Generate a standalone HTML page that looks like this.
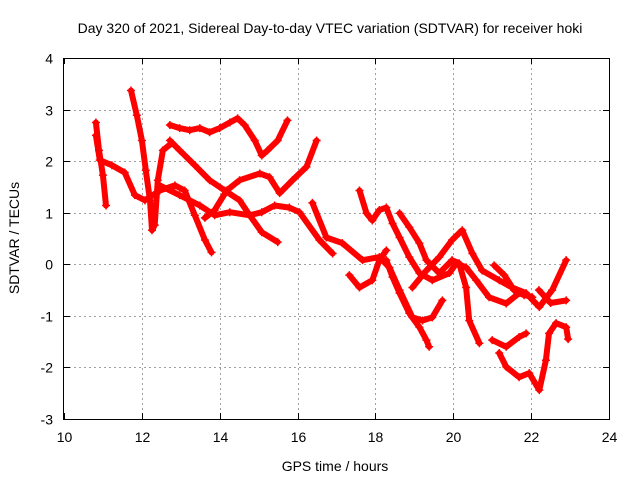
<!DOCTYPE html>
<html><head><meta charset="utf-8"><style>
body{margin:0;background:#fff;}
svg{display:block;font-family:"Liberation Sans",sans-serif;}
</style></head><body>
<svg id="chart" width="640" height="480" viewBox="0 0 640 480">
<rect width="640" height="480" fill="#fff"/>
<g id="grid"></g>
<g id="series"></g>
<rect x="63.5" y="58.5" width="546" height="361" fill="none" stroke="#000" stroke-width="1"/>
<g id="ticks" font-size="14" fill="#000"></g>
<text x="330" y="33" font-size="14" text-anchor="middle">Day 320 of 2021, Sidereal Day-to-day VTEC variation (SDTVAR) for receiver hoki</text>
<text x="335" y="471" font-size="14" text-anchor="middle">GPS time / hours</text>
<text transform="translate(19,238) rotate(-90)" font-size="14" text-anchor="middle">SDTVAR / TECUs</text>
</svg>
<script>
const xTicks=[10,12,14,16,18,20,22,24];
const yTicks=[4,3,2,1,0,-1,-2,-3];
const t1h=[10.82,10.9,11.0,11.08];
const t1v=[2.75,2.21,1.73,1.14];
const t2h=[10.82,10.92,11.23,11.56,11.82,12.08,12.46,12.85,13.10,13.36,13.62,13.79];
const t2v=[2.5,2.02,1.92,1.78,1.34,1.24,1.43,1.53,1.43,0.95,0.47,0.23];
const t3h=[11.72,11.87,12.0,12.1,12.21,12.26,12.33,12.41,12.54,12.77];
const t3v=[3.37,2.89,2.40,1.82,1.24,0.66,0.76,1.63,2.21,2.35];
const t4h=[12.72,12.97,13.23,13.49,13.74,14.0,14.26,14.46,14.64,14.9,15.08,15.23,15.49,15.74];
const t4v=[2.7,2.64,2.6,2.64,2.56,2.64,2.75,2.83,2.7,2.4,2.11,2.21,2.40,2.79];
const t5h=[12.72,12.97,13.36,13.74,14.13,14.51,14.77,15.08,15.49];
const t5v=[2.4,2.21,1.92,1.63,1.43,1.24,0.95,0.62,0.43];
const t6h=[12.46,12.97,13.49,13.87,14.26,14.77,15.08,15.41,15.79,16.05,16.56,16.90];
const t6v=[1.53,1.34,1.14,0.95,1.01,0.95,1.01,1.14,1.10,1.01,0.47,0.21];
const t7h=[13.62,13.87,14.18,14.51,15.03,15.28,15.54,15.87,16.23,16.49];
const t7v=[0.90,1.05,1.43,1.63,1.76,1.69,1.38,1.63,1.89,2.40];
const t8h=[16.38,16.74,17.15,17.67,18.10,18.36,18.62,18.95,19.21,19.46,19.72];
const t8v=[1.19,0.52,0.41,0.08,0.14,-0.06,-0.50,-1.03,-1.09,-1.03,-0.70];
const t9h=[17.33,17.59,17.92,18.10,18.28];
const t9v=[-0.21,-0.45,-0.31,0.08,0.27];
const t10h=[17.59,17.77,17.92,18.10,18.28,18.44,18.62,18.87,19.13,19.46,19.90,20.08,20.33,20.59,20.92,21.36,21.69,22.03];
const t10v=[1.43,0.99,0.85,1.05,1.10,0.79,0.52,0.14,-0.17,-0.31,-0.17,0.02,-0.06,-0.31,-0.64,-0.76,-0.56,-0.64];
const t11h=[18.28,18.44,18.62,18.87,19.13,19.31,19.38];
const t11v=[0.08,-0.25,-0.56,-0.95,-1.22,-1.47,-1.60];
const t12h=[18.62,18.87,19.13,19.31,19.64,19.97,20.15,20.33,20.41,20.67];
const t12v=[0.99,0.72,0.41,0.08,-0.17,0.08,0.02,-0.45,-1.09,-1.53];
const t13h=[18.95,19.31,19.64,19.97,20.23,20.49,20.74,21.18,21.51,21.87,22.21,22.54,22.90];
const t13v=[-0.45,-0.12,0.14,0.47,0.66,0.21,-0.12,-0.31,-0.45,-0.56,-0.83,-0.50,0.08];
const t14h=[21.0,21.36,21.69,21.87];
const t14v=[-1.47,-1.60,-1.41,-1.34];
const t15h=[21.05,21.31,21.56,21.82];
const t15v=[-0.02,-0.21,-0.50,-0.60];
const t16h=[21.18,21.36,21.69,21.95,22.21,22.38,22.46,22.64,22.90,22.95];
const t16v=[-1.72,-1.99,-2.19,-2.11,-2.44,-1.86,-1.34,-1.14,-1.22,-1.45];
const t17h=[22.2,22.5,22.9];
const t17v=[-0.5,-0.75,-0.7];
const tracks=[[t1h,t1v],[t2h,t2v],[t3h,t3v],[t4h,t4v],[t5h,t5v],[t6h,t6v],[t7h,t7v],[t8h,t8v],[t9h,t9v],[t10h,t10v],[t11h,t11v],[t12h,t12v],[t13h,t13v],[t14h,t14v],[t15h,t15v],[t16h,t16v],[t17h,t17v]];

const X0=64,X1=609,Y0=419,Y1=58;
function xs(h){return X0+(h-10)/14*(X1-X0);}
function ys(v){return Y0-(v+3)/7*(Y0-Y1);}
const NS="http://www.w3.org/2000/svg";
const grid=document.getElementById('grid'),ticks=document.getElementById('ticks'),ser=document.getElementById('series');
function mk(tag,attrs,parent){const e=document.createElementNS(NS,tag);for(const k in attrs)e.setAttribute(k,attrs[k]);parent.appendChild(e);return e;}
xTicks.forEach(t=>{
  const x=Math.round(xs(t))+0.5;
  if(t>10&&t<24){const g=mk('line',{x1:x,x2:x,y1:Y1,y2:Y0,stroke:'#a0a0a0','stroke-dasharray':'2,3'},grid);
  
  }
  mk('line',{x1:x,x2:x,y1:Y0,y2:Y0-6,stroke:'#000'},ticks);
  mk('line',{x1:x,x2:x,y1:Y1,y2:Y1+6,stroke:'#000'},ticks);
  const tx=mk('text',{x:x,y:442,'text-anchor':'middle'},ticks);tx.textContent=t;
  
  
});
yTicks.forEach(t=>{
  const y=Math.round(ys(t))+0.5;
  if(t>-3&&t<4){const g=mk('line',{x1:X0,x2:X1,y1:y,y2:y,stroke:'#a0a0a0','stroke-dasharray':'2,3'},grid);
  
  }
  mk('line',{x1:X0,x2:X0+6,y1:y,y2:y,stroke:'#000'},ticks);
  mk('line',{x1:X1,x2:X1-6,y1:y,y2:y,stroke:'#000'},ticks);
  const tx=mk('text',{x:53,y:y+5,'text-anchor':'end'},ticks);tx.textContent=t;
  
  
});
tracks.forEach((tr,i)=>{
  const [hs,vs]=tr;
  const pts=hs.map((h,j)=>xs(h).toFixed(1)+','+ys(vs[j]).toFixed(1)).join(' ');
  const pl=mk('polyline',{points:pts,fill:'none',stroke:'#ff0000','stroke-width':6,'stroke-linejoin':'round','stroke-linecap':'round'},ser);
  
  
  hs.forEach((h,j)=>{
    const x=xs(h),y=ys(vs[j]);
    const p=mk('path',{d:`M${x-4},${y}H${x+4}M${x},${y-4}V${y+4}`,stroke:'#ff0000','stroke-width':1.5},ser);
    
    
  });
});
</script>
</body></html>
